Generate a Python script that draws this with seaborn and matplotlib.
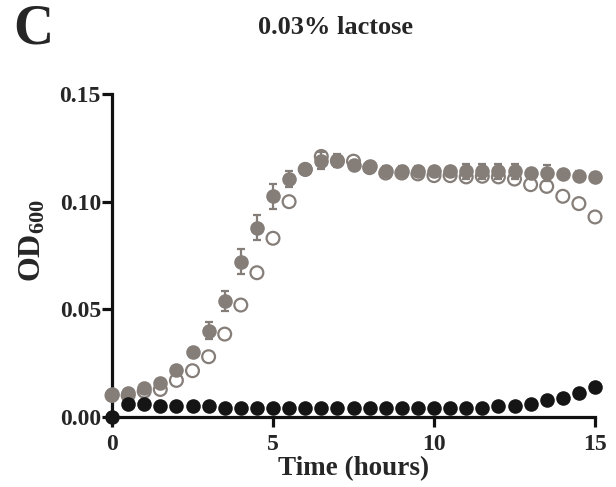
import matplotlib
matplotlib.use("Agg")
import matplotlib.pyplot as plt
import seaborn as sns
import pandas as pd

# Sampling times (hours)
hours = [0.0, 0.5, 1.0, 1.5, 2.0, 2.5, 3.0, 3.5, 4.0, 4.5, 5.0, 5.5, 6.0, 6.5,
         7.0, 7.5, 8.0, 8.5, 9.0, 9.5, 10.0, 10.5, 11.0, 11.5, 12.0, 12.5,
         13.0, 13.5, 14.0, 14.5, 15.0]

# OD600, filled grey strain (mean and SD)
od_grey_filled = [0.0105, 0.011, 0.0135, 0.016, 0.022, 0.030, 0.040, 0.054,
                  0.072, 0.088, 0.1025, 0.1105, 0.115, 0.119, 0.119, 0.117,
                  0.1164, 0.1144, 0.1144, 0.1144, 0.1141, 0.1141, 0.1141,
                  0.1141, 0.1141, 0.1141, 0.1133, 0.1133, 0.1129, 0.1121, 0.1115]
sd_grey_filled = [0.001, 0.001, 0.001, 0.0012, 0.0015, 0.002, 0.004, 0.0047,
                  0.0058, 0.006, 0.0057, 0.0038, 0.002, 0.004, 0.003, 0.002,
                  0.002, 0.002, 0.002, 0.002, 0.002, 0.002, 0.0035, 0.0035,
                  0.0035, 0.0035, 0.002, 0.0035, 0.002, 0.002, 0.002]

# OD600, open grey strain
od_grey_open = [0.010, 0.010, 0.012, 0.0128, 0.017, 0.0215, 0.028, 0.0385,
                0.052, 0.067, 0.083, 0.100, 0.115, 0.121, 0.119, 0.1188,
                0.1158, 0.1133, 0.1133, 0.1129, 0.1121, 0.1121, 0.1115,
                0.1118, 0.1115, 0.1105, 0.1079, 0.1071, 0.1025, 0.0991, 0.0929]

# OD600, black strain
od_black = [0.000, 0.006, 0.006, 0.005, 0.005, 0.005, 0.005, 0.004, 0.004,
            0.004, 0.004, 0.004, 0.004, 0.004, 0.004, 0.004, 0.004, 0.004,
            0.004, 0.004, 0.004, 0.004, 0.004, 0.004, 0.005, 0.005, 0.006,
            0.008, 0.009, 0.011, 0.014]

x_ticks = [0, 5, 10, 15]
y_ticks = [0.00, 0.05, 0.10, 0.15]

GREY = "#857d78"
BLACK = "#151515"

sns.set_theme(style="ticks")
plt.rcParams["font.family"] = ["Liberation Serif", "DejaVu Serif"]
plt.rcParams["font.weight"] = "bold"
plt.rcParams["mathtext.fontset"] = "custom"
plt.rcParams["mathtext.rm"] = "Liberation Serif:bold"
plt.rcParams["mathtext.it"] = "Liberation Serif:bold"
plt.rcParams["mathtext.bf"] = "Liberation Serif:bold"

df = pd.DataFrame({"hours": hours, "filled": od_grey_filled, "sd": sd_grey_filled,
                   "open": od_grey_open, "black": od_black})

fig = plt.figure(figsize=(6.16, 4.87), dpi=100)
ax = fig.add_axes([112 / 616, 70 / 487, 483 / 616, 323 / 487])

ax.errorbar(df["hours"], df["filled"], yerr=df["sd"], fmt="none",
            ecolor=GREY, elinewidth=1.6, capsize=3.2, capthick=1.6,
            zorder=3, clip_on=False)
sns.scatterplot(data=df, x="hours", y="filled", ax=ax, color=GREY, s=110,
                linewidth=0, zorder=4, clip_on=False)
sns.scatterplot(data=df, x="hours", y="open", ax=ax, facecolor="none",
                edgecolor=GREY, s=85, linewidth=1.6, zorder=5, clip_on=False)
sns.scatterplot(data=df, x="hours", y="black", ax=ax, color=BLACK, s=110,
                linewidth=0, zorder=6, clip_on=False)

ax.set_xlim(0, 15)
ax.set_ylim(0, 0.15)
ax.set_xticks(x_ticks)
ax.set_xticklabels([str(t) for t in x_ticks])
ax.set_yticks(y_ticks)
ax.set_yticklabels([f"{v:.2f}" for v in y_ticks])
sns.despine(ax=ax)
for side in ("left", "bottom"):
    ax.spines[side].set_linewidth(2.3)
    ax.spines[side].set_color("#111111")
ax.tick_params(axis="both", direction="out", length=7, width=2.3,
               color="#111111", labelsize=17)
ax.tick_params(axis="y", pad=1)
ax.tick_params(axis="x", pad=5)
for lab in ax.get_xticklabels() + ax.get_yticklabels():
    lab.set_fontweight("bold")

ax.set_xlabel("Time (hours)", fontsize=19.5, fontweight="bold", labelpad=1)
ax.set_ylabel("OD$_{600}$", fontsize=23, fontweight="bold")
ax.yaxis.label.set_va("center")
ax.yaxis.set_label_coords(-0.165, 0.545)

fig.text(336 / 616, 1 - 28 / 487, "0.03% lactose", ha="center", va="center",
         fontsize=19, fontweight="bold")
fig.text(13 / 616, 1 - 30 / 487, "C", ha="left", va="center",
         fontsize=40, fontweight="bold")

fig.savefig("out.png", dpi=100)
